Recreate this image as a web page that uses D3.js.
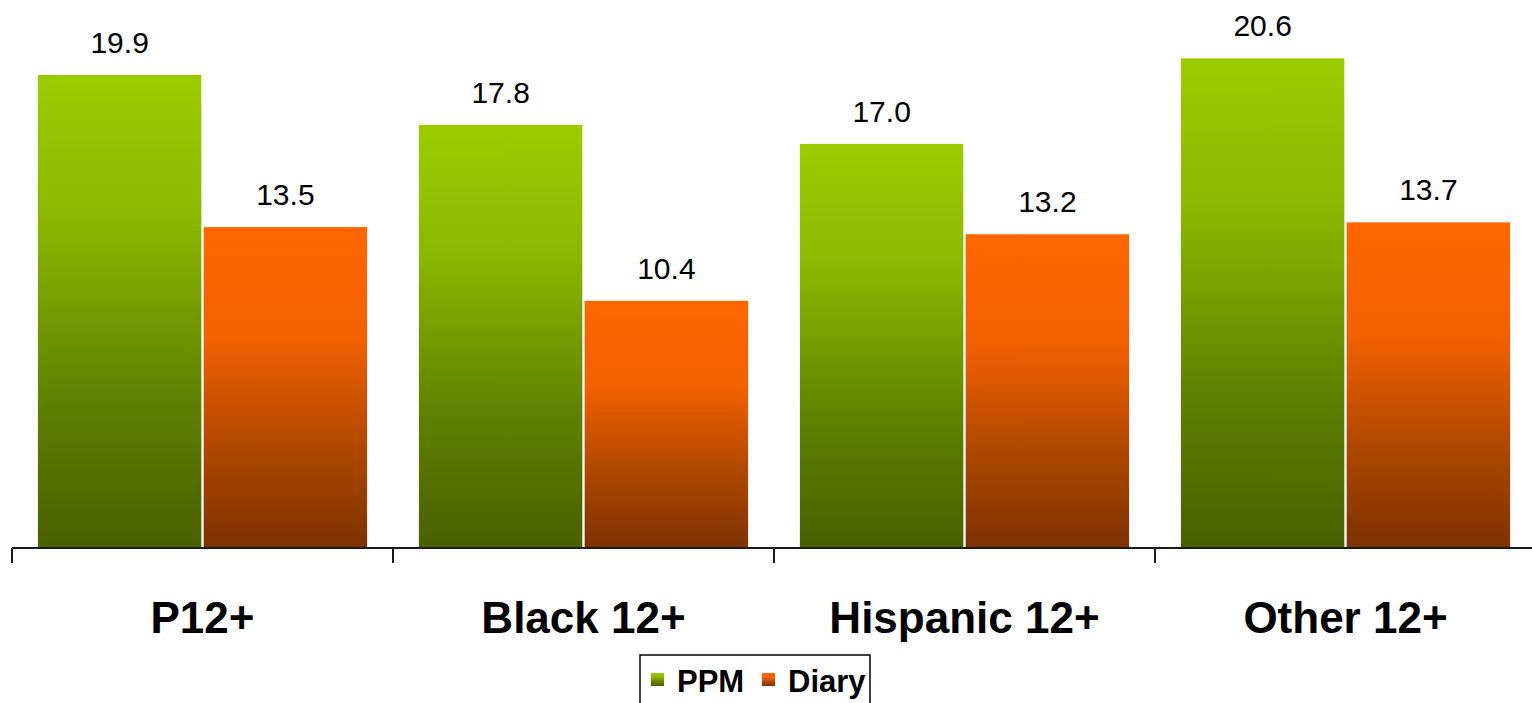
<!DOCTYPE html>
<html>
<head>
<meta charset="utf-8">
<script src="https://cdn.jsdelivr.net/npm/d3@7"></script>
<style>
  html, body { margin: 0; padding: 0; background: #fff; }
  svg { display: block; font-family: "Liberation Sans", Arial, sans-serif; }
</style>
</head>
<body>
<svg id="chart" width="1532" height="703"></svg>
<script>
const categories = ["P12+", "Black 12+", "Hispanic 12+", "Other 12+"];
const seriesNames = ["PPM", "Diary"];
const ppmValues = [19.9, 17.8, 17.0, 20.6];
const diaryValues = [13.5, 10.4, 13.2, 13.7];
const seriesColors = {
  PPM: [["0%", "#9CCC00"], ["30%", "#8CB800"], ["70%", "#5F7E00"], ["100%", "#4A6000"]],
  Diary: [["0%", "#FF6600"], ["35%", "#F26000"], ["70%", "#AD4700"], ["100%", "#7D3200"]]
};

const svg = d3.select("#chart");
const W = 1532, H = 703;
const baseY = 548;

const x = d3.scaleBand().domain(categories).range([12, 1536]).paddingInner(0).paddingOuter(0);
const bw = x.bandwidth();
const xs = d3.scaleBand().domain(seriesNames).range([bw * 0.068, bw * 0.932]).paddingInner(0.014).paddingOuter(0);
const y = d3.scaleLinear().domain([0, 22]).range([baseY, baseY - 22 * 23.77]);

const defs = svg.append("defs");
seriesNames.forEach(s => {
  const g = defs.append("linearGradient").attr("id", "grad-" + s)
    .attr("x1", 0).attr("y1", 0).attr("x2", 0).attr("y2", 1);
  seriesColors[s].forEach(([o, c]) => g.append("stop").attr("offset", o).attr("stop-color", c));
});

const data = categories.map((c, i) => ({ cat: c, vals: [
  { s: "PPM", v: ppmValues[i] }, { s: "Diary", v: diaryValues[i] }
]}));

const groups = svg.append("g").selectAll("g").data(data).join("g")
  .attr("transform", d => `translate(${x(d.cat)},0)`);

groups.selectAll("rect").data(d => d.vals).join("rect")
  .attr("x", d => xs(d.s))
  .attr("y", d => y(d.v))
  .attr("width", xs.bandwidth())
  .attr("height", d => baseY - y(d.v))
  .attr("fill", d => `url(#grad-${d.s})`);

groups.selectAll("text.val").data(d => d.vals).join("text")
  .attr("class", "val")
  .attr("x", d => xs(d.s) + xs.bandwidth() / 2)
  .attr("y", d => y(d.v) - 22)
  .attr("text-anchor", "middle")
  .attr("font-size", 30)
  .attr("fill", "#000")
  .text(d => d.v.toFixed(1));

// axis
const axisG = svg.append("g");
axisG.append("line").attr("x1", 12).attr("x2", W).attr("y1", baseY).attr("y2", baseY)
  .attr("stroke", "#1a1a1a").attr("stroke-width", 2);
axisG.selectAll("line.tick").data(categories).join("line").attr("class", "tick")
  .attr("x1", d => x(d)).attr("x2", d => x(d))
  .attr("y1", baseY).attr("y2", baseY + 15)
  .attr("stroke", "#1a1a1a").attr("stroke-width", 2);
axisG.selectAll("text").data(categories).join("text")
  .attr("x", d => x(d) + bw / 2)
  .attr("y", 633)
  .attr("text-anchor", "middle")
  .attr("font-size", 44)
  .attr("font-weight", "bold")
  .attr("fill", "#000")
  .text(d => d);

// legend
const lg = svg.append("g");
lg.append("rect").attr("x", 640).attr("y", 655).attr("width", 230).attr("height", 70)
  .attr("fill", "#fff").attr("stroke", "#000").attr("stroke-width", 1.5);
const legendItems = [{ s: "PPM", x: 651 }, { s: "Diary", x: 762 }];
legendItems.forEach(it => {
  lg.append("rect").attr("x", it.x).attr("y", 673).attr("width", 13).attr("height", 13)
    .attr("fill", `url(#grad-${it.s})`);
  lg.append("text").attr("x", it.x + 26).attr("y", 692)
    .attr("font-size", 31).attr("font-weight", "bold").attr("fill", "#000").text(it.s);
});
</script>
</body>
</html>
